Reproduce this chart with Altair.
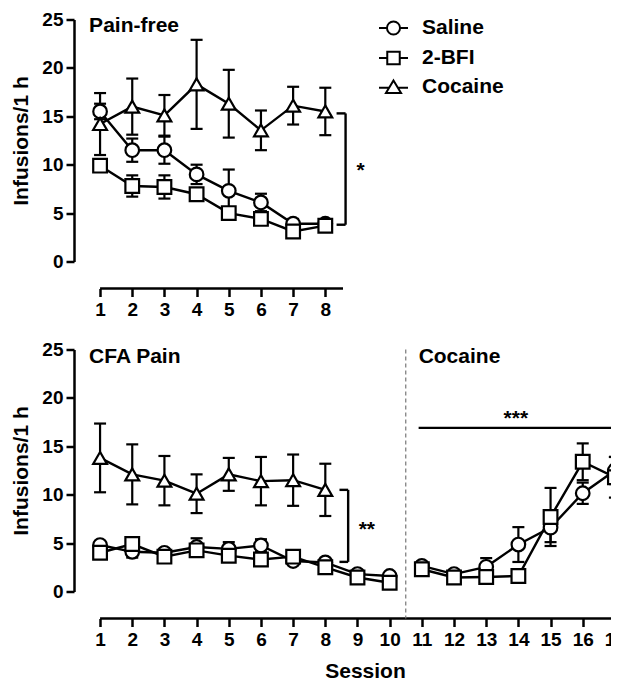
import altair as alt
import pandas as pd

FONT = "Liberation Sans"
GROUPS = ["Saline", "2-BFI", "Cocaine"]

# ---- Pain-free phase (sessions 1-8)
pf_sessions = [1, 2, 3, 4, 5, 6, 7, 8]
pf_saline = [15.5, 11.5, 11.5, 9.0, 7.3, 6.1, 3.9, 3.9]
pf_saline_sem = [0.8, 1.2, 1.4, 1.0, 2.2, 0.9, 0.5, 0.3]
pf_bfi = [9.9, 7.8, 7.7, 6.95, 5.0, 4.4, 3.1, 3.7]
pf_bfi_sem = [0.5, 1.1, 1.2, 0.4, 0.3, 0.3, 0.4, 0.3]
pf_cocaine = [14.2, 16.0, 15.1, 18.3, 16.3, 13.55, 16.1, 15.5]
pf_cocaine_sem = [3.2, 2.9, 2.1, 4.6, 3.5, 2.05, 1.95, 2.45]

# ---- CFA pain phase (sessions 1-10)
cfa_sessions = [1, 2, 3, 4, 5, 6, 7, 8, 9, 10]
cfa_saline = [4.8, 4.1, 4.0, 4.6, 4.4, 4.75, 3.15, 3.0, 1.8, 1.6]
cfa_saline_sem = [0.4, 0.6, 0.3, 0.9, 0.7, 0.65, 0.3, 0.3, 0.3, 0.3]
cfa_bfi = [4.0, 4.9, 3.6, 4.25, 3.7, 3.3, 3.6, 2.5, 1.45, 0.9]
cfa_bfi_sem = [0.3, 0.5, 0.3, 0.5, 0.4, 0.4, 0.3, 0.3, 0.3, 0.3]
cfa_cocaine_sessions = [1, 2, 3, 4, 5, 6, 7, 8]
cfa_cocaine = [13.8, 12.1, 11.45, 10.1, 12.1, 11.4, 11.5, 10.5]
cfa_cocaine_sem = [3.55, 3.1, 2.55, 2.0, 1.7, 2.5, 2.65, 2.7]

# ---- Cocaine phase (sessions 11-17)
coc_sessions = [11, 12, 13, 14, 15, 16, 17]
coc_saline = [2.65, 1.8, 2.55, 4.85, 6.6, 10.15, 12.5]
coc_saline_sem = [0.3, 0.3, 0.9, 1.8, 1.5, 1.1, 1.4]
coc_bfi = [2.3, 1.45, 1.5, 1.6, 7.7, 13.4, 11.8]
coc_bfi_sem = [0.3, 0.3, 0.3, 0.3, 3.0, 1.9, 2.1]

# ---- ticks
y_ticks = [0, 5, 10, 15, 20, 25]
pf_x_ticks = pf_sessions
bottom_x_ticks = cfa_sessions + coc_sessions

# ---- annotations (data coordinates)
pf_labels = ["Pain-free", "*"]
pf_label_x = [0.66, 9.1]
pf_label_y = [24.3, 9.4]
pf_label_align = ["left", "center"]
pf_bracket = [(8.63, 8.63, 3.8, 15.3), (8.35, 8.63, 15.3, 15.3), (8.35, 8.63, 3.8, 3.8)]

bt_labels = ["CFA Pain", "Cocaine", "**", "***"]
bt_label_x = [0.66, 10.9, 9.29, 13.92]
bt_label_y = [24.2, 24.2, 6.4, 17.8]
bt_label_align = ["left", "left", "center", "center"]
bt_bracket = [(8.71, 8.71, 3.06, 10.5), (8.44, 8.71, 10.5, 10.5), (8.44, 8.71, 3.06, 3.06),
              (10.9, 17.5, 16.9, 16.9)]
phase_divider = 10.5

PF_DOMAIN = [0.19, 8.55]
BT_DOMAIN = [0.19, 17.5]
H = 242
X_OFFSET = 27


def rows(sessions, group, means, sems, seg):
    return [dict(session=s, group=group, mean=m, sem=e, seg=f"{group}-{seg}")
            for s, m, e in zip(sessions, means, sems)]


pf_df = pd.DataFrame(
    rows(pf_sessions, "Saline", pf_saline, pf_saline_sem, "a")
    + rows(pf_sessions, "2-BFI", pf_bfi, pf_bfi_sem, "a")
    + rows(pf_sessions, "Cocaine", pf_cocaine, pf_cocaine_sem, "a")
)
bt_df = pd.DataFrame(
    rows(cfa_sessions, "Saline", cfa_saline, cfa_saline_sem, "a")
    + rows(coc_sessions, "Saline", coc_saline, coc_saline_sem, "b")
    + rows(cfa_sessions, "2-BFI", cfa_bfi, cfa_bfi_sem, "a")
    + rows(coc_sessions, "2-BFI", coc_bfi, coc_bfi_sem, "b")
    + rows(cfa_cocaine_sessions, "Cocaine", cfa_cocaine, cfa_cocaine_sem, "a")
)

LINE_W = 2.4


def make_panel(df, xdomain, xticks, width, xtitle, labels, lx, ly, lalign, brackets, divider=None, legend=False):
    xscale = alt.Scale(domain=xdomain, nice=False, zero=False)
    yscale = alt.Scale(domain=[0, 25], nice=False, zero=False)
    xaxis = alt.Axis(values=xticks, offset=X_OFFSET, domain=False, tickSize=8, tickWidth=2.5,
                     tickColor="black", labelFontSize=19, labelFontWeight="bold", labelColor="black",
                     labelFont=FONT, labelPadding=4, labelFlush=False, grid=False,
                     titleFont=FONT, titleFontSize=21, titleFontWeight="bold", titleColor="black",
                     titlePadding=11, titleX=291)
    yaxis = alt.Axis(values=y_ticks, tickSize=8, tickWidth=2.5, tickColor="black",
                     domainWidth=2.5, domainColor="black", labelFontSize=19, labelFontWeight="bold",
                     labelColor="black", labelFont=FONT, labelPadding=3, grid=False,
                     title="Infusions/1 h", titleFont=FONT, titleFontSize=21, titleFontWeight="bold",
                     titleColor="black", titlePadding=10)

    def X(field):
        return alt.X(field, type="quantitative", scale=xscale, axis=xaxis, title=xtitle)

    def X2(field):
        return alt.X2(field)

    def Y(field):
        return alt.Y(field, type="quantitative", scale=yscale, axis=yaxis, title="Infusions/1 h")

    base = alt.Chart(df).transform_calculate(lo="datum.mean - datum.sem", hi="datum.mean + datum.sem")

    err = base.mark_rule(color="black", strokeWidth=2.2).encode(x=X("session"), y=Y("lo"), y2=alt.Y2("hi"))
    cap_lo = base.mark_point(shape="M-1,0H1", size=144, color="black", strokeWidth=2.2, filled=False,
                             opacity=1).encode(x=X("session"), y=Y("lo"))
    cap_hi = base.mark_point(shape="M-1,0H1", size=144, color="black", strokeWidth=2.2, filled=False,
                             opacity=1).encode(x=X("session"), y=Y("hi"))
    line = base.mark_line(color="black", strokeWidth=LINE_W).encode(
        x=X("session"), y=Y("mean"), detail="seg:N", order="session:Q")
    pts = base.mark_point(filled=True, fill="white", stroke="black", strokeWidth=2.2, opacity=1).encode(
        x=X("session"), y=Y("mean"),
        shape=alt.Shape("group:N", scale=alt.Scale(domain=GROUPS, range=["circle", "square", "triangle-up"]),
                        legend=None),
        size=alt.Size("group:N", scale=alt.Scale(domain=GROUPS, range=[185, 190, 300]), legend=None),
    )

    seg_df = pd.DataFrame(brackets, columns=["x", "x2", "y", "y2"])
    segs = alt.Chart(seg_df).mark_rule(color="black", strokeWidth=2.4).encode(
        x=X("x"), x2=X2("x2"), y=Y("y"), y2=alt.Y2("y2"))

    axis_df = pd.DataFrame({"x": [xticks[0]], "x2": [xdomain[1]]})
    xline = alt.Chart(axis_df).mark_rule(color="black", strokeWidth=2.5).encode(
        x=X("x"), x2=X2("x2"), y=alt.value(H + X_OFFSET))

    lab_df = pd.DataFrame({"text": labels, "x": lx, "y": ly, "align": lalign})
    texts = []
    for al in ["left", "center"]:
        texts.append(alt.Chart(lab_df).transform_filter(f"datum.align == '{al}'").mark_text(
            align=al, baseline="middle", font=FONT, fontSize=21, fontWeight="bold", color="black"
        ).encode(x=X("x"), y=Y("y"), text="text:N"))

    layers = [err, cap_lo, cap_hi, line, pts, segs, xline] + texts

    if divider is not None:
        div_df = pd.DataFrame({"x": [divider], "y": [25]})
        div = alt.Chart(div_df).mark_rule(color="#777777", strokeWidth=1.2, strokeDash=[4, 3]).encode(
            x=X("x"), y=Y("y"), y2=alt.value(H + X_OFFSET))
        layers.append(div)

    if legend:
        c = "M-1,0H-0.45M0.45,0H1M0.45,0A0.45,0.45,0,1,1,-0.45,0A0.45,0.45,0,1,1,0.45,0Z"
        s = "M-1,0H-0.43M0.43,0H1M-0.43,-0.43H0.43V0.43H-0.43Z"
        t = "M-1,0.05H-0.3M0.3,0.05H1M0,-0.45L0.52,0.42L-0.52,0.42Z"
        leg = base.transform_filter("false").mark_point(
            filled=False, color="black", strokeWidth=2, size=841, opacity=1).encode(
            x=X("session"), y=Y("mean"),
            shape=alt.Shape("group:N", scale=alt.Scale(domain=GROUPS, range=[c, s, t]),
                            legend=alt.Legend(title=None, orient="none", legendX=304, legendY=-7,
                                              direction="vertical", padding=0, rowPadding=3,
                                              symbolSize=841, symbolOpacity=1,
                                              symbolStrokeColor="black", symbolStrokeWidth=2,
                                              labelFont=FONT, labelFontSize=21, labelFontWeight="bold",
                                              labelColor="black", labelOffset=13)),
        )
        layers.append(leg)

    ch = alt.layer(*layers).properties(width=width, height=H)
    if legend:
        ch = ch.resolve_scale(shape="independent")
    return ch


top = make_panel(pf_df, PF_DOMAIN, pf_x_ticks, 269, None, pf_labels, pf_label_x, pf_label_y,
                 pf_label_align, pf_bracket, legend=True)
bottom = make_panel(bt_df, BT_DOMAIN, bottom_x_ticks, 557, "Session", bt_labels, bt_label_x, bt_label_y,
                    bt_label_align, bt_bracket, divider=phase_divider)

chart = alt.vconcat(top, bottom, spacing=21).resolve_scale(shape="independent", size="independent").properties(
    padding={"left": 2, "top": 2.5, "right": -22, "bottom": 0}
).configure(font=FONT, background="white").configure_view(stroke=None)

chart.save("out.html", embed_options={"renderer": "svg", "actions": False})
